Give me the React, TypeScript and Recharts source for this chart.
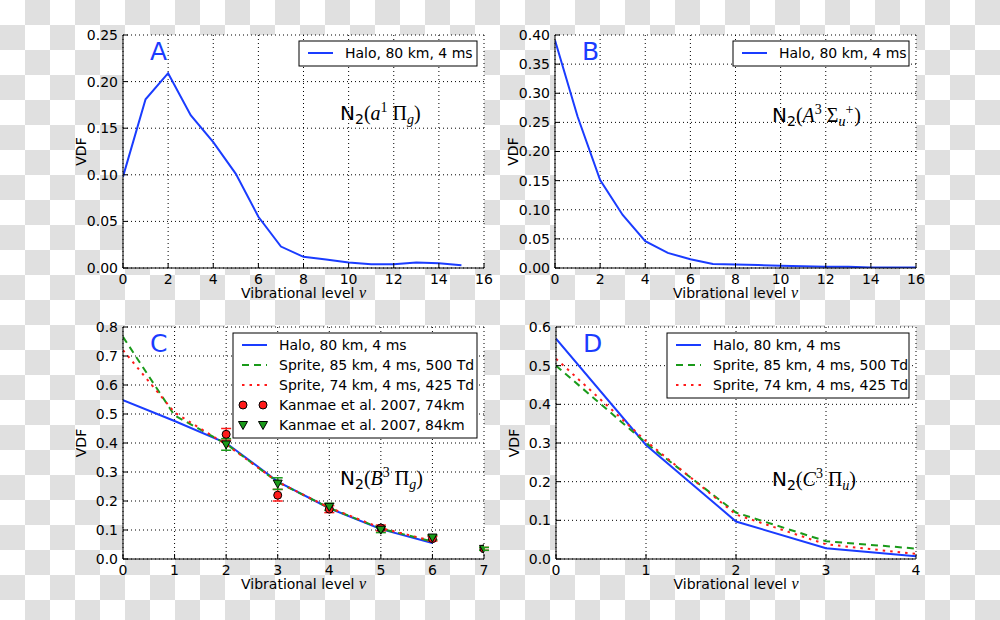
import React from 'react';
import { ComposedChart, Line, Scatter, ErrorBar, XAxis, YAxis, CartesianGrid } from 'recharts';

const BLUE = '#1a3cff';
const GREEN = '#1a9a1a';
const RED = '#ff1a1a';
const SANS = "'DejaVu Sans', sans-serif";
const SERIF = "'Liberation Serif', serif";

// panel A: N2(a1 Pi g)
const levelsA = [0, 1, 2, 3, 4, 5, 6, 7, 8, 9, 10, 11, 12, 13, 14, 15];
const haloA = [0.098, 0.181, 0.209, 0.164, 0.135, 0.101, 0.055, 0.023, 0.012, 0.009, 0.006, 0.004, 0.004, 0.006, 0.005, 0.003];

// panel B: N2(A3 Sigma u+)
const levelsB = [0, 1, 2, 3, 4, 5, 6, 7, 8, 9, 10, 11, 12, 13, 14, 15, 16];
const haloB = [0.391, 0.26, 0.151, 0.091, 0.046, 0.026, 0.015, 0.007, 0.006, 0.005, 0.004, 0.003, 0.002, 0.002, 0.001, 0.001, 0.001];

// panel C: N2(B3 Pi g)
const levelsC = [0, 1, 2, 3, 4, 5, 6];
const haloC = [0.548, 0.476, 0.4, 0.267, 0.175, 0.103, 0.055];
const sprite85C = [0.766, 0.495, 0.397, 0.265, 0.176, 0.105, 0.06];
const sprite74C = [0.72, 0.505, 0.395, 0.266, 0.177, 0.107, 0.062];
const kanmaeLevels = [2, 3, 4, 5, 6, 7];
const kanmae74 = [0.43, 0.22, 0.172, 0.107, 0.07, 0.035];
const kanmae74Err = [0.02, 0.02, 0.012, 0.01, 0.008, 0.005];
const kanmae84 = [0.395, 0.26, 0.18, 0.101, 0.074, 0.035];
const kanmae84Err = [0.02, 0.02, 0.012, 0.01, 0.008, 0.005];

// panel D: N2(C3 Pi u)
const levelsD = [0, 1, 2, 3, 4];
const haloD = [0.57, 0.295, 0.097, 0.028, 0.007];
const sprite85D = [0.5, 0.3, 0.12, 0.046, 0.027];
const sprite74D = [0.518, 0.305, 0.115, 0.038, 0.013];

const xTicks16 = [0, 2, 4, 6, 8, 10, 12, 14, 16];
const xTicks7 = [0, 1, 2, 3, 4, 5, 6, 7];
const xTicks4 = [0, 1, 2, 3, 4];
const yTicksA = [0, 0.05, 0.1, 0.15, 0.2, 0.25];
const yTicksB = [0, 0.05, 0.1, 0.15, 0.2, 0.25, 0.3, 0.35, 0.4];
const yTicksC = [0, 0.1, 0.2, 0.3, 0.4, 0.5, 0.6, 0.7, 0.8];
const yTicksD = [0, 0.1, 0.2, 0.3, 0.4, 0.5, 0.6];

const HALO = 'Halo, 80 km, 4 ms';
const SPRITE85 = 'Sprite, 85 km, 4 ms, 500 Td';
const SPRITE74 = 'Sprite, 74 km, 4 ms, 425 Td';
const K74 = 'Kanmae et al. 2007, 74km';
const K84 = 'Kanmae et al. 2007, 84km';

const pts = (xs: number[], ys: number[], es?: number[]) =>
  xs.map((v, i) => ({ v, y: ys[i], e: es ? es[i] : 0 }));

type Seg = { t: string; it?: boolean; pos?: 'sub' | 'sup'; dx?: number };

const circle = (p: any) => (
  <circle cx={p.cx} cy={p.cy} r={4} fill={RED} stroke="#000" strokeWidth={1} />
);
const triangle = (p: any) => (
  <path d={`M${p.cx - 4.5},${p.cy - 3.5} L${p.cx + 4.5},${p.cy - 3.5} L${p.cx},${p.cy + 4.5} Z`} fill={GREEN} stroke="#000" strokeWidth={1} />
);

const panels = [
  {
    key: 'A', box: { x0: 123, y0: 35, x1: 484, y1: 268 }, xTicks: xTicks16, yTicks: yTicksA, digits: 2,
    lines: [{ name: HALO, data: pts(levelsA, haloA), color: BLUE, dash: undefined }],
    scatters: [] as any[], legendW: 178, math: { x: 340, y: 120 },
    segs: [{ t: '(' }, { t: 'a', it: true }, { t: '1', pos: 'sup' }, { t: ' Π' }, { t: 'g', it: true, pos: 'sub' }, { t: ')' }] as Seg[],
  },
  {
    key: 'B', box: { x0: 555, y0: 35, x1: 916, y1: 268 }, xTicks: xTicks16, yTicks: yTicksB, digits: 2,
    lines: [{ name: HALO, data: pts(levelsB, haloB), color: BLUE, dash: undefined }],
    scatters: [] as any[], legendW: 176, math: { x: 772, y: 122 },
    segs: [{ t: '(' }, { t: 'A', it: true }, { t: '3', pos: 'sup' }, { t: ' Σ' }, { t: 'u', it: true, pos: 'sub' }, { t: '+', pos: 'sup', dx: 0 }, { t: ')', dx: 1 }] as Seg[],
  },
  {
    key: 'C', box: { x0: 123, y0: 327, x1: 484, y1: 559 }, xTicks: xTicks7, yTicks: yTicksC, digits: 1,
    lines: [
      { name: HALO, data: pts(levelsC, haloC), color: BLUE, dash: undefined },
      { name: SPRITE85, data: pts(levelsC, sprite85C), color: GREEN, dash: '7 5' },
      { name: SPRITE74, data: pts(levelsC, sprite74C), color: RED, dash: '2.5 5' },
    ],
    scatters: [
      { name: K74, data: pts(kanmaeLevels, kanmae74, kanmae74Err), color: RED, shape: circle },
      { name: K84, data: pts(kanmaeLevels, kanmae84, kanmae84Err), color: GREEN, shape: triangle },
    ],
    legendW: 244, math: { x: 340, y: 485 },
    segs: [{ t: '(' }, { t: 'B', it: true }, { t: '3', pos: 'sup' }, { t: ' Π' }, { t: 'g', it: true, pos: 'sub' }, { t: ')' }] as Seg[],
  },
  {
    key: 'D', box: { x0: 556, y0: 327, x1: 916, y1: 559 }, xTicks: xTicks4, yTicks: yTicksD, digits: 1,
    lines: [
      { name: HALO, data: pts(levelsD, haloD), color: BLUE, dash: undefined },
      { name: SPRITE85, data: pts(levelsD, sprite85D), color: GREEN, dash: '7 5' },
      { name: SPRITE74, data: pts(levelsD, sprite74D), color: RED, dash: '2.5 5' },
    ],
    scatters: [] as any[], legendW: 242, math: { x: 772, y: 486 },
    segs: [{ t: '(' }, { t: 'C', it: true }, { t: '3', pos: 'sup' }, { t: ' Π' }, { t: 'u', it: true, pos: 'sub' }, { t: ')' }] as Seg[],
  },
];

const ML = 65;
const MT = 15;
const MR = 16;
const MB = 52;

const axisCommon = {
  axisLine: { stroke: '#000', strokeWidth: 1 },
  tickLine: { stroke: '#000', strokeWidth: 1 },
  tickSize: -5,
  allowDataOverflow: true,
};

function Panel({ p }: { p: (typeof panels)[number] }) {
  const w = p.box.x1 - p.box.x0 + ML + MR;
  const h = p.box.y1 - p.box.y0 + MT + MB;
  const xDom = [p.xTicks[0], p.xTicks[p.xTicks.length - 1]];
  const yDom = [p.yTicks[0], p.yTicks[p.yTicks.length - 1]];
  const tickStyle = { fill: '#000', fontSize: 14, fontFamily: SANS };
  return (
    <div style={{ position: 'absolute', left: p.box.x0 - ML, top: p.box.y0 - MT }}>
      <ComposedChart width={w} height={h} margin={{ top: MT, right: MR, bottom: 0, left: 0 }}>
        <CartesianGrid stroke="#000" strokeDasharray="1 3" fill="#fff" fillOpacity={1} />
        <XAxis dataKey="v" type="number" domain={xDom} ticks={p.xTicks} interval={0} height={MB}
          tickMargin={11} tick={tickStyle} {...axisCommon} />
        <XAxis xAxisId="t" orientation="top" type="number" domain={xDom} ticks={p.xTicks} interval={0}
          height={0} tick={false} {...axisCommon} />
        <YAxis dataKey="y" type="number" domain={yDom} ticks={p.yTicks} interval={0} width={ML}
          tickMargin={10} tick={tickStyle} tickFormatter={(v: number) => v.toFixed(p.digits)} {...axisCommon} />
        <YAxis yAxisId="r" orientation="right" type="number" domain={yDom} ticks={p.yTicks} interval={0}
          width={0} tick={false} {...axisCommon} />
        {p.lines.map((l) => (
          <Line key={l.name} data={l.data} dataKey="y" type="linear" stroke={l.color} strokeWidth={2}
            strokeDasharray={l.dash} dot={false} isAnimationActive={false} />
        ))}
        {p.scatters.map((s) => (
          <Scatter key={s.name} data={s.data} dataKey="y" shape={s.shape} isAnimationActive={false}>
            <ErrorBar dataKey="e" direction="y" width={5} stroke={s.color} strokeWidth={1.5} />
          </Scatter>
        ))}
      </ComposedChart>
    </div>
  );
}

function MathLabel({ x, y, segs }: { x: number; y: number; segs: Seg[] }) {
  let shift = 4;
  return (
    <text x={x} y={y} fontSize={20} fill="#000">
      <tspan fontFamily={SANS}>N</tspan>
      <tspan fontFamily={SANS} fontSize={14} dy={4}>2</tspan>
      {segs.map((s, i) => {
        const target = s.pos === 'sub' ? 4 : s.pos === 'sup' ? -8 : 0;
        const dy = target - shift;
        shift = target;
        return (
          <tspan key={i} dy={dy} dx={s.dx} fontFamily={SERIF} fontStyle={s.it ? 'italic' : 'normal'}
            fontSize={s.pos ? 14 : 20}>{s.t}</tspan>
        );
      })}
    </text>
  );
}

function Overlay({ p }: { p: (typeof panels)[number] }) {
  const { x0, y0, x1, y1 } = p.box;
  const rows = [...p.lines.map((l) => ({ ...l, kind: 'line' })), ...p.scatters.map((s) => ({ ...s, kind: 'scatter' }))];
  const lw = p.legendW;
  const lx = x1 - 7 - lw;
  const ly = y0 + 6;
  const lh = rows.length * 20 + 5;
  return (
    <g>
      <text x={x0 + 27} y={y0 + 25} fontSize={25} fontFamily={SANS} fill={BLUE}>{p.key}</text>
      <text x={(x0 + x1) / 2} y={y1 + 30} fontSize={14} fontFamily={SANS} textAnchor="middle" fill="#000">
        Vibrational level <tspan fontFamily={SERIF} fontStyle="italic" fontSize={16}>v</tspan>
      </text>
      <text transform={`translate(${x0 - 37},${(y0 + y1) / 2}) rotate(-90)`} fontSize={14} fontFamily={SANS}
        textAnchor="middle" fill="#000">VDF</text>
      <MathLabel x={p.math.x} y={p.math.y} segs={p.segs} />
      <rect x={lx} y={ly} width={lw} height={lh} fill="#fff" stroke="#000" strokeWidth={1} />
      {rows.map((r: any, i) => {
        const cy = ly + 12 + i * 20;
        const sx = lx + 9;
        return (
          <g key={r.name}>
            {r.kind === 'line' ? (
              <line x1={sx} x2={sx + 25} y1={cy} y2={cy} stroke={r.color} strokeWidth={2} strokeDasharray={r.dash} />
            ) : (
              <g>
                {r.shape({ cx: sx + 1, cy })}
                {r.shape({ cx: sx + 21, cy })}
              </g>
            )}
            <text x={sx + 37} y={cy + 5} fontSize={14} fontFamily={SANS} fill="#000">{r.name}</text>
          </g>
        );
      })}
    </g>
  );
}

export default function App() {
  return (
    <div
      style={{
        position: 'absolute', left: 0, top: 0, width: 1000, height: 620, overflow: 'hidden',
        background: 'repeating-conic-gradient(#e0e0e0 0% 25%, #ffffff 0% 50%) 0 0 / 50px 50px',
      }}
    >
      {panels.map((p) => <Panel key={p.key} p={p} />)}
      <svg width={1000} height={620} style={{ position: 'absolute', left: 0, top: 0, pointerEvents: 'none' }}>
        {panels.map((p) => <Overlay key={p.key} p={p} />)}
      </svg>
    </div>
  );
}
